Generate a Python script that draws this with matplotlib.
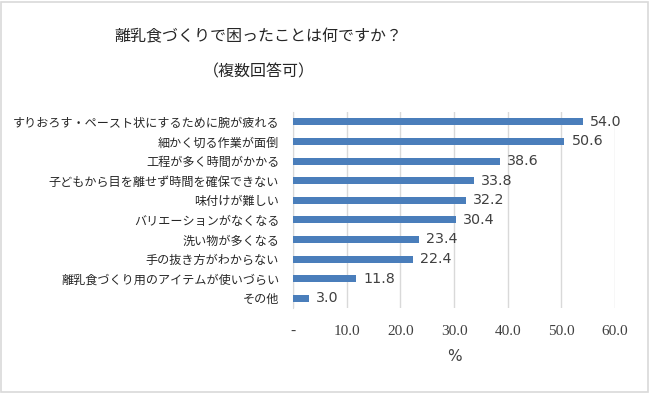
import matplotlib
matplotlib.use('Agg')
import matplotlib.pyplot as plt
from matplotlib.patches import Rectangle

plt.rcParams['font.family'] = ['Noto Sans CJK JP', 'DejaVu Sans']

# Data (top to bottom as shown)
categories = [
    'すりおろす・ペースト状にするために腕が疲れる',
    '細かく切る作業が面倒',
    '工程が多く時間がかかる',
    '子どもから目を離せず時間を確保できない',
    '味付けが難しい',
    'バリエーションがなくなる',
    '洗い物が多くなる',
    '手の抜き方がわからない',
    '離乳食づくり用のアイテムが使いづらい',
    'その他',
]
values = [54.0, 50.6, 38.6, 33.8, 32.2, 30.4, 23.4, 22.4, 11.8, 3.0]
xticks = [0, 10, 20, 30, 40, 50, 60]
xticklabels = ['-', '10.0', '20.0', '30.0', '40.0', '50.0', '60.0']

fig = plt.figure(figsize=(6.5, 3.93), dpi=100)
ax = fig.add_axes([0.451, 0.216, 0.495, 0.499])

# Bars
ypos = list(range(len(categories)))
ax.barh(ypos, values, height=0.36, color='#4a7ebb', zorder=3)
ax.set_ylim(len(categories) - 0.5, -0.5)
ax.set_xlim(0, 60)

# Value labels
for y, v in zip(ypos, values):
    ax.text(v + 1.3, y, f'{v:.1f}', va='center', ha='left', fontsize=10.3,
            color='#404040', family=['DejaVu Sans'])

# Axes styling
ax.set_yticks(ypos)
ax.set_yticklabels(categories, fontsize=8.7, color='#262626')
ax.set_xticks(xticks)
ax.set_xticklabels(xticklabels, fontsize=11, color='#404040',
                   family=['Liberation Serif', 'DejaVu Serif'])
ax.tick_params(axis='both', length=0)
ax.tick_params(axis='x', pad=12)
ax.tick_params(axis='y', pad=10)
ax.grid(axis='x', color='#d9d9d9', linewidth=1, zorder=0)
for s in ['top', 'right', 'bottom']:
    ax.spines[s].set_visible(False)
ax.spines['left'].set_color('#d9d9d9')
ax.set_xlabel('%', fontsize=11, color='#404040', labelpad=8,
              family=['DejaVu Sans'])

# Title
fig.text(0.398, 0.905, '離乳食づくりで困ったことは何ですか？', ha='center', va='center',
         fontsize=11.5, color='#262626')
fig.text(0.398, 0.818, '（複数回答可）', ha='center', va='center',
         fontsize=11.5, color='#262626')

# Outer border
fig.patches.append(Rectangle((0.002, 0.003), 0.995, 0.993, transform=fig.transFigure,
                             fill=False, edgecolor='#d9d9d9', linewidth=1.2))

fig.savefig('out.png', dpi=100, facecolor='white')
